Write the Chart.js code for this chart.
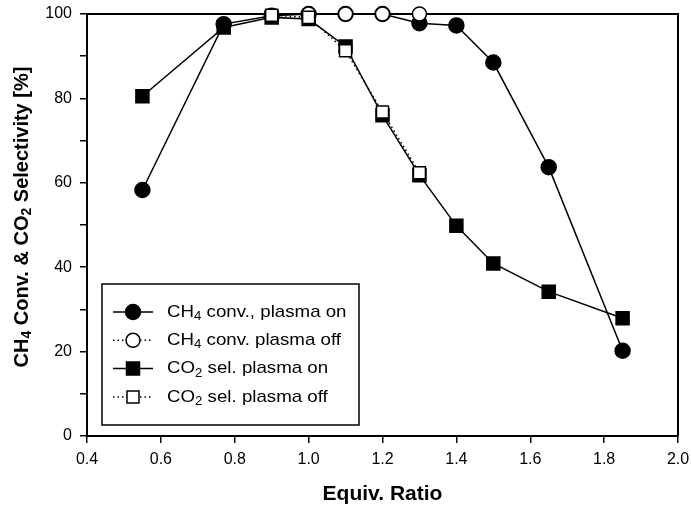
<!DOCTYPE html>
<html>
<head>
<meta charset="utf-8">
<script src="https://cdn.jsdelivr.net/npm/chart.js@4.4.0/dist/chart.umd.min.js"></script>
<style>
  html, body { margin: 0; padding: 0; background: #fff; }
  canvas { display: block; }
</style>
</head>
<body>
<canvas id="chart" width="691" height="507"></canvas>
<script>
// equivalence ratios of the runs
const ratioOn = [0.55, 0.77, 0.9, 1.0, 1.1, 1.2, 1.3, 1.4, 1.5, 1.65, 1.85];
const ch4ConvOn = [58.3, 97.6, 99.6, 100, 100, 100, 97.8, 97.3, 88.5, 63.7, 20.2];
const co2SelOn = [80.5, 96.8, 99.2, 98.8, 92.3, 76.0, 61.8, 49.8, 40.9, 34.2, 27.9];

const ratioCh4Off = [1.0, 1.1, 1.2, 1.3];
const ch4ConvOff = [100, 100, 100, 100];

const ratioCo2Off = [0.9, 1.0, 1.1, 1.2, 1.3];
const co2SelOff = [99.7, 99.2, 91.3, 76.8, 62.4];

const xTicks = [0.4, 0.6, 0.8, 1.0, 1.2, 1.4, 1.6, 1.8, 2.0];
const yLabelTicks = [0, 20, 40, 60, 80, 100];

// legend entries: text parts are [text, isSubscript]
const legendItems = [
  { parts: [["CH", 0], ["4", 1], [" conv., plasma on", 0]], style: "circle", filled: true, dotted: false },
  { parts: [["CH", 0], ["4", 1], [" conv. plasma off", 0]], style: "circle", filled: false, dotted: true },
  { parts: [["CO", 0], ["2", 1], [" sel. plasma on", 0]], style: "rect", filled: true, dotted: false },
  { parts: [["CO", 0], ["2", 1], [" sel. plasma off", 0]], style: "rect", filled: false, dotted: true }
];
const yTitleParts = [["CH", 0], ["4", 1], [" Conv. & CO", 0], ["2", 1], [" Selectivity [%]", 0]];

const FONT = "Liberation Sans, Arial, Helvetica, sans-serif";
const DOTS = [1.5, 3];

function pts(xs, ys) {
  return xs.map((x, i) => ({ x: x, y: ys[i] }));
}

// draws text with subscript pieces; returns width
function drawRich(ctx, parts, x, y, size, bold, measureOnly) {
  const weight = bold ? "bold " : "";
  const subSize = Math.round(size * 0.68);
  let w = 0;
  parts.forEach(p => {
    ctx.font = weight + (p[1] ? subSize : size) + "px " + FONT;
    const dy = p[1] ? size * 0.28 : 0;
    if (!measureOnly) ctx.fillText(p[0], x + w, y + dy);
    w += ctx.measureText(p[0]).width;
  });
  return w;
}

const framePlugin = {
  id: "frame",
  beforeDatasetsDraw(chart) {
    const { ctx, chartArea: a } = chart;
    ctx.save();
    ctx.strokeStyle = "#000";
    ctx.lineWidth = 2;
    ctx.beginPath();
    ctx.moveTo(a.left, a.top);
    ctx.lineTo(a.right, a.top);
    ctx.lineTo(a.right, a.bottom);
    ctx.stroke();
    ctx.restore();
  },
  afterDraw(chart) {
    const { ctx, chartArea: a } = chart;
    ctx.save();
    ctx.fillStyle = "#000";
    ctx.textBaseline = "middle";

    // y axis title, rotated
    const tw = drawRich(ctx, yTitleParts, 0, 0, 20, true, true);
    ctx.translate(22, (a.top + a.bottom) / 2 - 8);
    ctx.rotate(-Math.PI / 2);
    drawRich(ctx, yTitleParts, -tw / 2, 0, 20, true, false);
    ctx.setTransform(1, 0, 0, 1, 0, 0);

    // legend box
    const bx = 102, by = 284, bw = 257, bh = 141;
    ctx.fillStyle = "#fff";
    ctx.fillRect(bx, by, bw, bh);
    ctx.strokeStyle = "#000";
    ctx.lineWidth = 1.5;
    ctx.strokeRect(bx, by, bw, bh);

    legendItems.forEach((it, i) => {
      const cy = 312 + i * 28.3;
      const cx = 133;
      ctx.beginPath();
      ctx.setLineDash(it.dotted ? DOTS : []);
      ctx.lineWidth = 1.5;
      ctx.moveTo(113, cy);
      ctx.lineTo(153, cy);
      ctx.stroke();
      ctx.setLineDash([]);
      ctx.beginPath();
      if (it.style === "circle") {
        ctx.arc(cx, cy, it.filled ? 7.5 : 7, 0, Math.PI * 2);
      } else {
        const s = it.filled ? 6.5 : 6;
        ctx.rect(cx - s, cy - s, 2 * s, 2 * s);
      }
      ctx.fillStyle = it.filled ? "#000" : "#fff";
      ctx.fill();
      ctx.stroke();
      ctx.fillStyle = "#000";
      // legend text is set a little wide
      ctx.save();
      ctx.translate(167, cy);
      ctx.scale(1.1, 1);
      drawRich(ctx, it.parts, 0, 0, 17, false, false);
      ctx.restore();
    });
    ctx.restore();
  }
};

const baseSet = {
  showLine: true,
  borderColor: "#000",
  borderWidth: 1.5,
  pointBorderColor: "#000",
  pointBorderWidth: 1.5,
  clip: false
};

new Chart(document.getElementById("chart"), {
  type: "scatter",
  data: {
    datasets: [
      Object.assign({}, baseSet, {
        label: "CO2 sel. plasma off",
        data: pts(ratioCo2Off, co2SelOff),
        borderDash: DOTS,
        pointStyle: "rect",
        pointRadius: 8.5,
        pointBackgroundColor: "#fff",
        order: 0
      }),
      Object.assign({}, baseSet, {
        label: "CO2 sel. plasma on",
        data: pts(ratioOn, co2SelOn),
        pointStyle: "rect",
        pointRadius: 9.2,
        pointBackgroundColor: "#000",
        order: 1
      }),
      Object.assign({}, baseSet, {
        label: "CH4 conv. plasma off",
        data: pts(ratioCh4Off, ch4ConvOff),
        borderDash: DOTS,
        pointStyle: "circle",
        pointRadius: 7,
        pointBackgroundColor: "#fff",
        order: 2
      }),
      Object.assign({}, baseSet, {
        label: "CH4 conv., plasma on",
        data: pts(ratioOn, ch4ConvOn),
        pointStyle: "circle",
        pointRadius: 7.5,
        pointBackgroundColor: "#000",
        order: 3
      })
    ]
  },
  options: {
    responsive: false,
    animation: false,
    maintainAspectRatio: false,
    layout: { padding: { top: 14, right: 13, left: 0, bottom: 0 } },
    plugins: {
      legend: { display: false },
      tooltip: { enabled: false }
    },
    scales: {
      x: {
        type: "linear",
        min: 0.4,
        max: 2.0,
        afterBuildTicks: s => { s.ticks = xTicks.map(v => ({ value: v })); },
        afterFit: s => {
          s.height = 71;
          s.paddingLeft = 0;
          s.paddingRight = 0;
        },
        ticks: {
          color: "#000",
          font: { family: FONT, size: 16 },
          padding: 7,
          maxRotation: 0,
          callback: v => v.toFixed(1)
        },
        grid: { drawOnChartArea: false, drawTicks: true, tickLength: 7, color: "#000", lineWidth: 1.5 },
        border: { display: true, color: "#000", width: 2 },
        title: {
          display: true,
          text: "Equiv. Ratio",
          color: "#000",
          font: { family: FONT, size: 21, weight: "bold" },
          padding: { top: 8, bottom: 0 }
        }
      },
      y: {
        type: "linear",
        min: 0,
        max: 100,
        ticks: {
          stepSize: 10,
          color: "#000",
          font: { family: FONT, size: 16 },
          padding: 8,
          callback: v => (yLabelTicks.includes(v) ? String(v) : "")
        },
        afterFit: s => {
          s.width = 87;
          s.paddingTop = 0;
          s.paddingBottom = 0;
        },
        grid: { drawOnChartArea: false, drawTicks: true, tickLength: 7, color: "#000", lineWidth: 1.5 },
        border: { display: true, color: "#000", width: 2 }
      }
    }
  },
  plugins: [framePlugin]
});
</script>
</body>
</html>
